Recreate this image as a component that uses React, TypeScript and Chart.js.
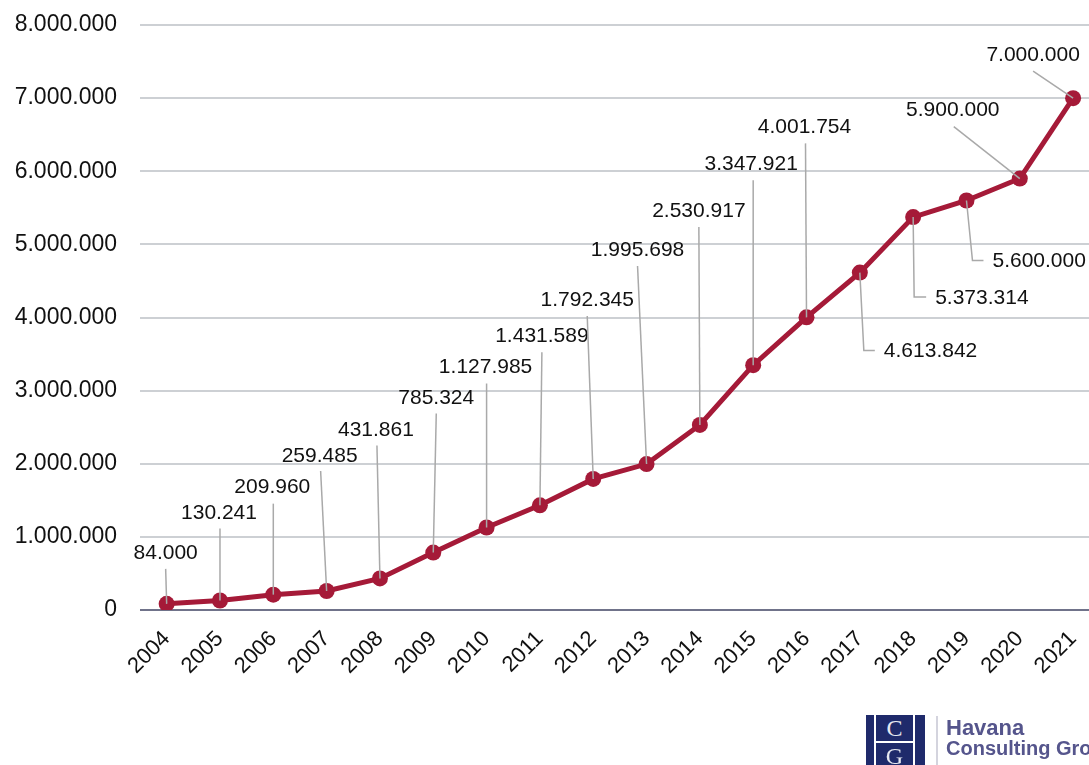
import React, { useEffect, useRef } from "react";
import { Chart, registerables } from "chart.js";

Chart.register(...registerables);

const years = ["2004","2005","2006","2007","2008","2009","2010","2011","2012","2013","2014","2015","2016","2017","2018","2019","2020","2021"];
const visitors = [84000,130241,209960,259485,431861,785324,1127985,1431589,1792345,1995698,2530917,3347921,4001754,4613842,5373314,5600000,5900000,7000000];
const yTicks = [0,1000000,2000000,3000000,4000000,5000000,6000000,7000000,8000000];

// label layout: [textDx, textDy, lineDx, lineDy, kind, endDx]
// kind 0 = straight leader, text centered; kind 1 = elbow leader, text left-aligned
const labelLayout: number[][] = [
  [-1,-51,-1,-35,0,0],
  [-1,-87,0,-72,0,0],
  [-1,-107,0,-91,0,0],
  [-7,-135,-6,-120,0,0],
  [-4,-148,-3,-133,0,0],
  [3,-154,3,-139,0,0],
  [-1,-160,0,-144,0,0],
  [2,-169,2,-153,0,0],
  [-6,-179,-6,-163,0,0],
  [-9,-214,-9,-198,0,0],
  [-1,-214,-1,-198,0,0],
  [-2,-201,0,-185,0,0],
  [-2,-190,-1,-174,0,0],
  [24,79,4,78,1,15],
  [22,81,1,80,1,13],
  [26,61,6,60,1,17],
  [-67,-68,-66,-52,0,0],
  [-40,-43,-40,-27,0,0],
];

const fmt = (v: number) => String(Math.round(v)).replace(/\B(?=(\d{3})+(?!\d))/g, ".");

const FONT = "'Liberation Sans', Arial, Helvetica, sans-serif";

const labelPlugin = {
  id: "leaderLabels",
  afterDatasetsDraw(chart: any) {
    const ctx = chart.ctx;
    const meta = chart.getDatasetMeta(0);
    ctx.save();
    ctx.font = `21px ${FONT}`;
    ctx.textBaseline = "middle";
    meta.data.forEach((pt: any, i: number) => {
      const [tdx, tdy, ldx, ldy, kind, edx] = labelLayout[i];
      const px = pt.x, py = pt.y;
      ctx.strokeStyle = "#a9a9a9";
      ctx.lineWidth = 1.5;
      ctx.beginPath();
      ctx.moveTo(px, py);
      ctx.lineTo(px + ldx, py + ldy);
      if (kind === 1) ctx.lineTo(px + edx, py + ldy);
      ctx.stroke();
      ctx.fillStyle = "#111111";
      ctx.textAlign = kind === 1 ? "left" : "center";
      ctx.fillText(fmt(visitors[i]), px + tdx, py + tdy);
    });
    ctx.restore();
  },
};

export default function App() {
  const ref = useRef<HTMLCanvasElement>(null);
  useEffect(() => {
    if (!ref.current) return;
    const chart = new Chart(ref.current, {
      type: "line",
      data: {
        labels: years,
        datasets: [
          {
            data: visitors,
            borderColor: "#a51a38",
            backgroundColor: "#a51a38",
            pointBackgroundColor: "#a51a38",
            pointBorderColor: "#a51a38",
            borderWidth: 5,
            pointRadius: 8,
            pointBorderWidth: 0,
            tension: 0,
          },
        ],
      },
      options: {
        responsive: false,
        animation: false,
        layout: { padding: { top: 25, right: 0, left: 0, bottom: 0 } },
        plugins: { legend: { display: false }, tooltip: { enabled: false } },
        scales: {
          x: {
            offset: true,
            grid: { display: false, drawTicks: false },
            border: { display: false },
            ticks: {
              minRotation: 45,
              maxRotation: 45,
              padding: 16,
              color: "#111111",
              font: { family: FONT, size: 22 },
              autoSkip: false,
            },
            afterFit: (s: any) => {
              s.height = 155;
            },
          },
          y: {
            min: 0,
            max: 8000000,
            afterBuildTicks: (s: any) => { s.ticks = yTicks.map((v) => ({ value: v })); },
            grid: {
              drawTicks: false,
              lineWidth: 2,
              color: (c: any) => (c.tick && c.tick.value === 0 ? "#70738a" : "#cdd0d4"),
            },
            border: { display: false },
            ticks: {
              padding: 23,
              color: "#111111",
              font: { family: FONT, size: 23 },
              callback: (v: any) => fmt(Number(v)),
            },
            afterFit: (s: any) => {
              s.width = 140;
              s.paddingTop = 0;
              s.paddingBottom = 0;
            },
          },
        },
      },
      plugins: [labelPlugin],
    });
    return () => chart.destroy();
  }, []);

  return (
    <div style={{ position: "absolute", left: 0, top: 0, width: 1089, height: 765, overflow: "hidden", background: "#ffffff" }}>
      <canvas ref={ref} width={1108} height={765} style={{ display: "block", width: 1108, height: 765 }} />
      <div style={{ position: "absolute", left: 866, top: 715, width: 8, height: 50, background: "#1f2a6b" }} />
      <div style={{ position: "absolute", left: 876, top: 715, width: 37, height: 26, background: "#1f2a6b", color: "#e6e8f0", fontFamily: "'Liberation Serif', 'DejaVu Serif', serif", fontSize: 24, lineHeight: "26px", textAlign: "center" }}>C</div>
      <div style={{ position: "absolute", left: 876, top: 743, width: 37, height: 22, background: "#1f2a6b", color: "#e6e8f0", fontFamily: "'Liberation Serif', 'DejaVu Serif', serif", fontSize: 24, lineHeight: "26px", textAlign: "center", overflow: "hidden" }}>G</div>
      <div style={{ position: "absolute", left: 915, top: 715, width: 10, height: 50, background: "#1f2a6b" }} />
      <div style={{ position: "absolute", left: 936, top: 716, width: 2, height: 49, background: "#d4d4de" }} />
      <div style={{ position: "absolute", left: 946, top: 718, whiteSpace: "nowrap", fontFamily: FONT, fontWeight: "bold", lineHeight: "20px", color: "#55558c" }}>
        <div style={{ fontSize: 22 }}>Havana</div>
        <div style={{ fontSize: 20 }}>Consulting Group</div>
      </div>
    </div>
  );
}
